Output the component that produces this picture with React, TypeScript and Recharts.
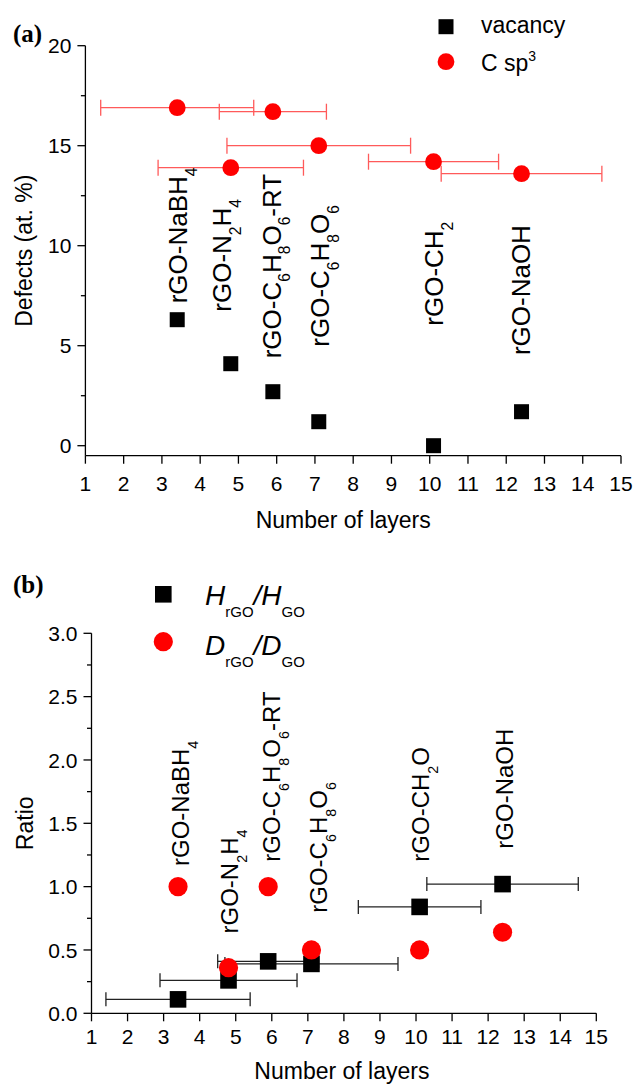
import React from "react";
import { ScatterChart, Scatter, XAxis, YAxis, ErrorBar, Legend } from "recharts";

// number of layers for each sample, and its spread
const layers = [3.4, 4.8, 5.9, 7.1, 10.1, 12.4];
const layersErr = [2.0, 1.9, 1.4, 2.4, 1.7, 2.1];

// panel (a): defects (at. %)
const vacancy = [6.3, 4.1, 2.7, 1.2, 0.0, 1.7];
const cSp3 = [16.9, 13.9, 16.7, 15.0, 14.2, 13.6];

// panel (b): ratios
const hRatio = [0.11, 0.26, 0.41, 0.39, 0.84, 1.02];
const dRatio = [1.0, 0.36, 1.0, 0.5, 0.5, 0.64];

// sample names, "_x" = subscript
const samplesA = ["rGO-NaBH_4", "rGO-N_2H_4", "rGO-C_6H_8O_6-RT", "rGO-C_6H_8O_6", "rGO-CH_2", "rGO-NaOH"];
const samplesB = ["rGO-NaBH_4", "rGO-N_2H_4", "rGO-C_6H_8O_6-RT", "rGO-C_6H_8O_6", "rGO-CH_2O", "rGO-NaOH"];
// where each vertical name starts (data coords)
const labelXA = [3.66, 4.8, 6.1, 7.38, 10.35, 12.62];
const labelYA = [7.12, 6.7, 4.37, 4.95, 6.0, 4.53];
const labelXB = [3.7, 5.06, 6.23, 7.53, 10.36, 12.69];
const labelYB = [1.163, 0.63, 1.197, 0.794, 1.197, 1.3];

const xTicks = [1, 2, 3, 4, 5, 6, 7, 8, 9, 10, 11, 12, 13, 14, 15];
const yTicksA = [0, 2.5, 5, 7.5, 10, 12.5, 15, 17.5, 20];
const yMajorA = [0, 5, 10, 15, 20];
const yTicksB = [0, 0.25, 0.5, 0.75, 1, 1.25, 1.5, 1.75, 2, 2.25, 2.5, 2.75, 3];
const yMajorB = [0, 0.5, 1, 1.5, 2, 2.5, 3];

const FONT = "'Liberation Sans', Arial, sans-serif";
const SERIF = "'Liberation Serif', 'Times New Roman', serif";

const vacancyData = layers.map((x, i) => ({ x, y: vacancy[i] }));
const sp3Data = layers.map((x, i) => ({ x, y: cSp3[i], xErr: layersErr[i] }));
const hData = layers.map((x, i) => ({ x, y: hRatio[i], xErr: layersErr[i] }));
const dData = layers.map((x, i) => ({ x, y: dRatio[i] }));
const labelsA = samplesA.map((name, i) => ({ x: labelXA[i], y: labelYA[i], name }));
const labelsB = samplesB.map((name, i) => ({ x: labelXB[i], y: labelYB[i], name }));

const TICK = 8;
const TICK_GAP = 6;

function subText(name: string, fs: number) {
  const bits = name.split(/_(.)/);
  const d = fs * 0.38;
  const out: any[] = [];
  let down = false;
  bits.forEach((b, i) => {
    if (!b) return;
    if (i % 2 === 1) {
      out.push(<tspan key={i} dy={d} fontSize={fs * 0.6}>{b}</tspan>);
      down = true;
    } else {
      out.push(<tspan key={i} dy={down ? -d : 0} fontSize={fs}>{b}</tspan>);
      down = false;
    }
  });
  return out;
}

const nameShape = (fs: number) => (p: any) => {
  const { cx, cy, payload } = p;
  return (
    <text x={cx} y={cy} transform={`rotate(-90 ${cx} ${cy})`} fontFamily={FONT} fontSize={fs} fill="#000">
      {subText(payload.name, fs)}
    </text>
  );
};

const square = (s: number) => (p: any) => <rect x={p.cx - s / 2} y={p.cy - s / 2} width={s} height={s} fill="#000" />;
const dot = (r: number) => (p: any) => <circle cx={p.cx} cy={p.cy} r={r} fill="#ff0000" />;

const yTick = (major: number[], digits: number) => (p: any) => {
  const v = p.payload.value;
  const ax = p.x + TICK + TICK_GAP;
  const isMajor = major.includes(v);
  return (
    <g>
      <line x1={ax - (isMajor ? TICK : 4.5)} x2={ax} y1={p.y} y2={p.y} stroke="#000" strokeWidth={1.3} />
      {isMajor && (
        <text x={p.x} y={p.y} dy="0.36em" textAnchor="end" fontFamily={FONT} fontSize={21} fill="#000">
          {v.toFixed(digits)}
        </text>
      )}
    </g>
  );
};

const xTitle = (dx: number, dy: number) => (p: any) => {
  const vb = p.viewBox;
  return (
    <text x={vb.x + vb.width / 2 + dx} y={vb.y + dy} textAnchor="middle" fontFamily={FONT} fontSize={23} fill="#000">
      Number of layers
    </text>
  );
};

const yTitle = (text: string, off: number) => (p: any) => {
  const vb = p.viewBox;
  const x = vb.x + vb.width - off;
  const y = vb.y + vb.height / 2;
  return (
    <text x={x} y={y} transform={`rotate(-90 ${x} ${y})`} textAnchor="middle" fontFamily={FONT} fontSize={23} fill="#000">
      {text}
    </text>
  );
};

const legendA = () => (
  <svg width={210} height={85}>
    <rect x={26 - 7.5} y={26.7 - 7.5} width={15} height={15} fill="#000" />
    <text x={61} y={33.3} fontFamily={FONT} fontSize={23}>vacancy</text>
    <circle cx={26} cy={61.7} r={8.4} fill="#ff0000" />
    <text x={61} y={70.7} fontFamily={FONT} fontSize={23}>
      C sp<tspan dy={-10} fontSize={14}>3</tspan>
    </text>
  </svg>
);

const ratioName = (letter: string, y: number) => (
  <text x={65} y={y} fontFamily={FONT} fontSize={28}>
    <tspan fontStyle="italic">{letter}</tspan>
    <tspan dy={11.7} fontSize={15}>rGO</tspan>
    <tspan dy={-11.7} fontStyle="italic">/{letter}</tspan>
    <tspan dy={11.7} fontSize={15}>GO</tspan>
  </text>
);

const legendB = () => (
  <svg width={220} height={120}>
    <rect x={23.3 - 8.3} y={29.3 - 8.3} width={16.6} height={16.6} fill="#000" />
    {ratioName("H", 40)}
    <circle cx={23.3} cy={76.7} r={9.6} fill="#ff0000" />
    {ratioName("D", 90)}
  </svg>
);

export default function App() {
  return (
    <div style={{ position: "absolute", left: 0, top: 0, width: 634, height: 1086, background: "#fff" }}>
      <div style={{ position: "absolute", left: 0, top: 0 }}>
        <ScatterChart width={634} height={545} margin={{ top: 45.7, right: 13, left: 15.4, bottom: 19.3 }}>
          <XAxis
            type="number"
            dataKey="x"
            domain={[1, 15]}
            ticks={xTicks}
            interval={0}
            height={70}
            tickSize={TICK}
            tickMargin={12}
            axisLine={{ stroke: "#000", strokeWidth: 1.3 }}
            tickLine={{ stroke: "#000", strokeWidth: 1.3 }}
            tick={{ fill: "#000", fontSize: 21, fontFamily: FONT }}
            label={{ content: xTitle(-10, 72.6) }}
          />
          <YAxis
            type="number"
            dataKey="y"
            domain={[-0.5, 20]}
            ticks={yTicksA}
            interval={0}
            width={70}
            tickSize={TICK}
            tickMargin={TICK_GAP}
            axisLine={{ stroke: "#000", strokeWidth: 1.3 }}
            tickLine={false}
            tick={yTick(yMajorA, 0)}
            label={{ content: yTitle("Defects (at. %)", 53) }}
          />
          <Legend
            layout="horizontal"
            verticalAlign="middle"
            content={legendA}
            wrapperStyle={{ left: 420, top: 0, width: 210, height: 85 }}
          />
          <Scatter name="vacancy" data={vacancyData} shape={square(15)} isAnimationActive={false} />
          <Scatter name="C sp3" data={sp3Data} shape={dot(8.4)} isAnimationActive={false}>
            <ErrorBar dataKey="xErr" direction="x" width={8} stroke="#ff5a5a" strokeWidth={1.3} isAnimationActive={false} />
          </Scatter>
          <Scatter name="names" data={labelsA} shape={nameShape(26)} isAnimationActive={false} legendType="none" />
        </ScatterChart>
      </div>
      <div style={{ position: "absolute", left: 0, top: 545 }}>
        <ScatterChart width={634} height={541} margin={{ top: 88.3, right: 37.7, left: 21.5, bottom: 2.7 }}>
          <XAxis
            type="number"
            dataKey="x"
            domain={[1, 15]}
            ticks={xTicks}
            interval={0}
            height={70}
            tickSize={TICK}
            tickMargin={8}
            axisLine={{ stroke: "#000", strokeWidth: 1.3 }}
            tickLine={{ stroke: "#000", strokeWidth: 1.3 }}
            tick={{ fill: "#000", fontSize: 21, fontFamily: FONT }}
            label={{ content: xTitle(-2, 65.7) }}
          />
          <YAxis
            type="number"
            dataKey="y"
            domain={[0, 3]}
            ticks={yTicksB}
            interval={0}
            width={70}
            tickSize={TICK}
            tickMargin={TICK_GAP}
            axisLine={{ stroke: "#000", strokeWidth: 1.3 }}
            tickLine={false}
            tick={yTick(yMajorB, 1)}
            label={{ content: yTitle("Ratio", 58.5) }}
          />
          <Legend
            layout="horizontal"
            verticalAlign="middle"
            content={legendB}
            wrapperStyle={{ left: 140, top: 20, width: 220, height: 120 }}
          />
          <Scatter name="H" data={hData} shape={square(16.6)} isAnimationActive={false}>
            <ErrorBar dataKey="xErr" direction="x" width={7} stroke="#222" strokeWidth={1.3} isAnimationActive={false} />
          </Scatter>
          <Scatter name="D" data={dData} shape={dot(9.6)} isAnimationActive={false} />
          <Scatter name="names" data={labelsB} shape={nameShape(24)} isAnimationActive={false} legendType="none" />
        </ScatterChart>
      </div>
      <svg width={634} height={1086} style={{ position: "absolute", left: 0, top: 0, pointerEvents: "none" }}>
        <text x={13} y={42} fontFamily={SERIF} fontWeight="bold" fontSize={25}>(a)</text>
        <text x={13} y={593} fontFamily={SERIF} fontWeight="bold" fontSize={25}>(b)</text>
      </svg>
    </div>
  );
}
